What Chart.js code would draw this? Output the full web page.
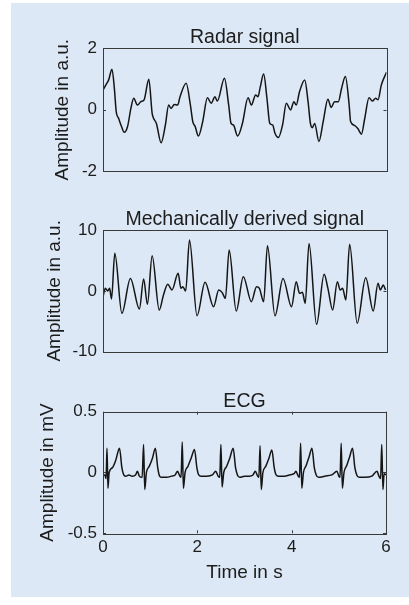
<!DOCTYPE html>
<html>
<head>
<meta charset="utf-8">
<script src="https://cdn.jsdelivr.net/npm/chart.js@4.4.1/dist/chart.umd.min.js"></script>
<style>
  body { margin: 0; background: #fff; width: 409px; height: 605px; position: relative; overflow: hidden; }
  #bg { position: absolute; left: 11px; top: 3px; width: 398px; height: 594px; background: #dce8f5; }
  canvas { position: absolute; left: 0; }
</style>
</head>
<body>
<div id="bg"></div>
<canvas id="radarChart" width="409" height="190" style="top:0"></canvas>
<canvas id="mechChart" width="409" height="190" style="top:190px"></canvas>
<canvas id="ecgChart" width="409" height="225" style="top:380px"></canvas>
<script>
// time axis (s)
const timeTicks = [0, 2, 4, 6];

// radar signal (a.u.)
const radarTime = [0, 0.07, 0.12, 0.19, 0.24, 0.28, 0.33, 0.38, 0.45, 0.52, 0.59, 0.65, 0.73, 0.80, 0.87, 0.97,
  1.04, 1.07, 1.13, 1.23, 1.32, 1.39, 1.44, 1.51, 1.58, 1.63, 1.76, 1.85, 1.90, 1.95, 2.02, 2.11, 2.21, 2.29,
  2.37, 2.42, 2.57, 2.66, 2.71, 2.76, 2.85, 2.95, 3.07, 3.14, 3.23, 3.28, 3.33, 3.40, 3.47, 3.53, 3.59, 3.64,
  3.71, 3.80, 3.88, 3.97, 4.04, 4.09, 4.16, 4.27, 4.34, 4.39, 4.43, 4.48, 4.57, 4.66, 4.76, 4.83, 4.90, 4.98,
  5.05, 5.13, 5.21, 5.24, 5.33, 5.40, 5.47, 5.54, 5.63, 5.70, 5.77, 5.82, 5.89, 6.00];
const radarVals = [0.64, 0.83, 0.97, 1.32, 0.70, -0.07, -0.28, -0.50, -0.74, -0.55, 0.04, 0.37, 0.15, 0.26, 0.32, 0.99,
  -0.12, -0.28, -0.45, -1.08, -0.50, 0.15, 0.04, 0.17, 0.15, 0.42, 0.86, 0.15, -0.39, -0.55, -0.86, -0.39, 0.39, 0.21,
  0.42, 0.28, 1.02, 0.15, -0.45, -0.50, -0.86, -0.45, 0.39, 0.15, 0.48, 0.42, 0.75, 1.16, 0.37, -0.45, -0.50, -0.77,
  -0.91, -0.50, 0.21, -0.01, 0.26, 0.15, 0.59, 0.97, 0.26, -0.45, -0.59, -0.45, -1.04, -0.39, 0.34, 0.07, 0.26, 0.26,
  0.70, 1.08, 0.15, -0.39, -0.52, -0.63, -0.80, -0.28, 0.39, 0.28, 0.37, 0.32, 0.80, 1.22];
const radarTicks = [-2, 0, 2];

// mechanically derived signal (a.u.)
const mechTime = [0, 0.05, 0.10, 0.14, 0.18, 0.25, 0.40, 0.58, 0.77, 0.86, 0.94, 1.04, 1.19, 1.28, 1.37, 1.46,
  1.59, 1.65, 1.69, 1.75, 1.83, 1.99, 2.16, 2.34, 2.45, 2.52, 2.59, 2.67, 2.82, 2.97, 3.14, 3.25, 3.31, 3.40,
  3.48, 3.64, 3.81, 3.99, 4.09, 4.16, 4.22, 4.28, 4.36, 4.52, 4.68, 4.76, 4.86, 4.96, 5.02, 5.07, 5.14, 5.22,
  5.38, 5.56, 5.72, 5.82, 5.87, 5.93, 5.98];
const mechVals = [-0.96, 0.41, -0.03, 0.41, -1.34, 6.16, -3.70, 2.05, -2.99, 1.95, -2.22, 5.78, -3.15, -0.68, 1.07, 0.14,
  2.88, 0.41, 0.68, -0.03, 8.36, -4.08, 1.40, -2.60, 0.14, -0.25, -1.23, 6.71, -3.32, 2.33, -1.78, 0.68, 0.41, -1.78,
  7.40, -4.10, 2.05, -2.60, 1.51, -0.41, -0.25, -2.05, 7.80, -5.50, 2.71, 0.41, -3.15, 1.51, 0.14, 0.41, -1.51, 7.64,
  -5.34, 2.16, -3.32, 1.23, 0.14, 0.96, 0.14];
const mechTicks = [-10, 0, 10];

// ECG (mV)
const ecgTime = [0, 0.04, 0.065, 0.085, 0.105, 0.13, 0.20, 0.27, 0.35, 0.40, 0.44, 0.48, 0.55, 0.62, 0.69, 0.73,
  0.77, 0.83, 0.86, 0.885, 0.92, 0.98, 1.05, 1.11, 1.16, 1.20, 1.25, 1.35, 1.45, 1.53, 1.58, 1.63, 1.655, 1.68,
  1.705, 1.74, 1.80, 1.87, 1.94, 1.99, 2.03, 2.08, 2.20, 2.32, 2.39, 2.44, 2.475, 2.50, 2.525, 2.56, 2.62, 2.69,
  2.76, 2.81, 2.85, 2.90, 3.00, 3.10, 3.18, 3.23, 3.28, 3.305, 3.33, 3.355, 3.39, 3.45, 3.52, 3.58, 3.63, 3.67,
  3.72, 3.85, 3.95, 4.05, 4.09, 4.14, 4.165, 4.19, 4.215, 4.25, 4.31, 4.37, 4.43, 4.48, 4.52, 4.57, 4.70, 4.85,
  4.96, 5.00, 5.025, 5.05, 5.075, 5.11, 5.17, 5.23, 5.29, 5.34, 5.38, 5.43, 5.55, 5.70, 5.81, 5.85, 5.885, 5.91,
  5.935, 5.96, 6.00];
const ecgVals = [-0.02, -0.02, -0.05, 0.20, -0.13, 0.00, 0.04, 0.10, 0.20, 0.04, -0.02, -0.03, -0.02, -0.03, -0.02, 0.01,
  -0.03, -0.04, 0.23, -0.14, 0.00, 0.05, 0.12, 0.20, 0.04, -0.03, -0.04, -0.04, -0.03, -0.02, 0.01, -0.03, -0.04, 0.25,
  -0.13, 0.00, 0.05, 0.12, 0.19, 0.04, -0.02, -0.03, -0.03, -0.02, 0.01, -0.03, -0.04, 0.23, -0.12, 0.00, 0.05, 0.12,
  0.20, 0.04, -0.02, -0.04, -0.03, -0.03, -0.02, 0.01, -0.03, -0.04, 0.22, -0.14, 0.00, 0.05, 0.12, 0.185, 0.04, -0.02,
  -0.03, -0.03, -0.02, -0.01, 0.01, -0.03, -0.04, 0.24, -0.13, 0.00, 0.06, 0.13, 0.20, 0.04, -0.02, -0.04, -0.03, -0.02,
  0.01, -0.03, -0.04, 0.24, -0.13, 0.00, 0.06, 0.13, 0.20, 0.04, -0.02, -0.04, -0.04, -0.03, 0.01, -0.03, -0.05, 0.23,
  -0.14, -0.01, -0.02];
const ecgTicks = [-0.5, 0, 0.5];

const fontFamily = '"Liberation Sans", Arial, sans-serif';
const textColor = '#1c1c1c';
const boxColor = '#3a3a3a';
const lineColor = '#151515';

// matlab style frame: box, inward ticks and the title above the plot
const boxPlugin = {
  id: 'matlabBox',
  afterDraw(chart, args, opts) {
    const {ctx, chartArea: a, scales} = chart;
    ctx.save();
    ctx.strokeStyle = boxColor;
    ctx.lineWidth = 1;
    ctx.strokeRect(Math.round(a.left) + 0.5, Math.round(a.top) + 0.5, Math.round(a.width), Math.round(a.height));
    ctx.beginPath();
    scales.y.ticks.forEach(t => {
      const y = Math.round(scales.y.getPixelForValue(t.value)) + 0.5;
      ctx.moveTo(a.left, y); ctx.lineTo(a.left + 3, y);
      ctx.moveTo(a.right, y); ctx.lineTo(a.right - 3, y);
    });
    if (opts.xTicks) {
      scales.x.ticks.forEach(t => {
        const x = Math.round(scales.x.getPixelForValue(t.value)) + 0.5;
        ctx.moveTo(x, a.top); ctx.lineTo(x, a.top + 3);
        ctx.moveTo(x, a.bottom); ctx.lineTo(x, a.bottom - 3);
      });
    }
    ctx.stroke();
    ctx.fillStyle = textColor;
    ctx.font = '19.5px ' + fontFamily;
    ctx.textAlign = 'center';
    ctx.textBaseline = 'alphabetic';
    ctx.fillText(opts.title, (a.left + a.right) / 2, a.top - 5);
    ctx.restore();
  }
};

function makePanel(id, xs, ys, p) {
  const points = xs.map((t, i) => ({x: t, y: ys[i]}));
  const font = {family: fontFamily, size: 19};
  const tickFont = {family: fontFamily, size: 17};
  const xScale = {
    type: 'linear', min: 0, max: 6, display: p.showX,
    afterBuildTicks: s => { s.ticks = timeTicks.map(v => ({value: v})); },
    grid: {display: false, drawTicks: false},
    border: {display: false},
    ticks: {padding: 4, font: tickFont, color: textColor, maxRotation: 0, callback: v => String(v)},
    title: {display: p.showX, text: 'Time in s', font: font, color: textColor, padding: 0}
  };
  if (p.showX) xScale.afterFit = s => { s.height = 50.5; };

  return new Chart(document.getElementById(id), {
    type: 'line',
    data: {
      datasets: [{
        data: points,
        borderColor: lineColor,
        borderWidth: 1.5,
        pointRadius: 0,
        cubicInterpolationMode: 'monotone',
        fill: false
      }]
    },
    options: {
      responsive: false,
      animation: false,
      devicePixelRatio: 1,
      layout: {padding: p.padding},
      plugins: {
        legend: {display: false},
        tooltip: {enabled: false},
        matlabBox: {title: p.title, xTicks: p.showX}
      },
      scales: {
        x: xScale,
        y: {
          min: p.ticks[0], max: p.ticks[p.ticks.length - 1],
          afterBuildTicks: s => { s.ticks = p.ticks.map(v => ({value: v})); },
          afterFit: s => { s.width = 103 - p.padding.left; },
          grid: {display: false, drawTicks: false},
          border: {display: false},
          ticks: {padding: 6, font: tickFont, color: textColor, callback: v => String(v)},
          title: {display: true, text: p.yLabel, font: font, color: textColor, padding: 0}
        }
      }
    },
    plugins: [boxPlugin]
  });
}

makePanel('radarChart', radarTime, radarVals, {
  title: 'Radar signal', yLabel: 'Amplitude in a.u.', ticks: radarTicks, showX: false,
  padding: {left: 51.5, top: 48.3, right: 22.5, bottom: 19}
});
makePanel('mechChart', mechTime, mechVals, {
  title: 'Mechanically derived signal', yLabel: 'Amplitude in a.u.', ticks: mechTicks, showX: false,
  padding: {left: 43, top: 40, right: 22.5, bottom: 28.3}
});
makePanel('ecgChart', ecgTime, ecgVals, {
  title: 'ECG', yLabel: 'Amplitude in mV', ticks: ecgTicks, showX: true,
  padding: {left: 36, top: 31.7, right: 23, bottom: 21.2}
});
</script>
</body>
</html>
